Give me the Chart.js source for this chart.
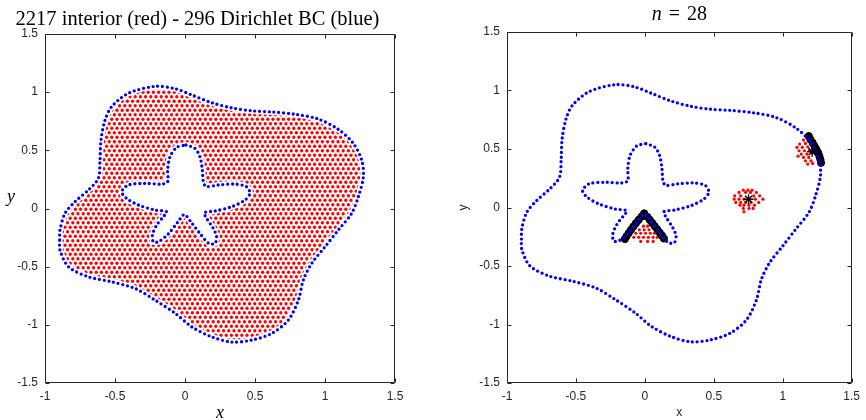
<!DOCTYPE html>
<html>
<head>
<meta charset="utf-8">
<script src="https://cdn.jsdelivr.net/npm/chart.js@4"></script>
<style>
  body { margin: 0; background: #fff; }
  #wrap { position: relative; width: 866px; height: 420px; }
  canvas { position: absolute; top: 0; }
  #left { left: 0; }
  #right { left: 433px; }
</style>
</head>
<body>
<div id="wrap">
  <canvas id="left" width="433" height="420"></canvas>
  <canvas id="right" width="433" height="420"></canvas>
</div>
<script>
// counts shown in the titles
const interiorCount = 2217;
const boundaryCount = 296;
const stencilSize = 28;

// tick labels
const xTicks = [-1, -0.5, 0, 0.5, 1, 1.5];
const yTicks = [-1.5, -1, -0.5, 0, 0.5, 1, 1.5];

// outer boundary (closed)
const outerPts = [
  [-0.895, -0.27], [-0.893, -0.185], [-0.857, -0.042], [-0.786, 0.058], [-0.69, 0.159],
  [-0.619, 0.259], [-0.607, 0.417], [-0.6, 0.59], [-0.571, 0.76], [-0.524, 0.875],
  [-0.405, 0.99], [-0.214, 1.05], [-0.071, 1.03], [0.048, 0.976], [0.19, 0.91],
  [0.333, 0.865], [0.476, 0.84], [0.619, 0.83], [0.786, 0.81], [0.95, 0.77],
  [1.095, 0.68], [1.202, 0.56], [1.262, 0.417], [1.274, 0.273], [1.238, 0.101],
  [1.19, -0.042], [1.095, -0.185], [1.0, -0.329], [0.905, -0.472], [0.845, -0.615],
  [0.81, -0.787], [0.738, -0.959], [0.619, -1.074], [0.476, -1.131], [0.333, -1.148],
  [0.19, -1.103], [0.048, -1.017], [-0.071, -0.9], [-0.214, -0.787], [-0.357, -0.687],
  [-0.524, -0.63], [-0.69, -0.587], [-0.833, -0.5], [-0.893, -0.357], [-0.895, -0.27]
];

// inner star-shaped boundary (closed)
const innerPts = [
  [0.007, 0.546], [0.071, 0.517], [0.107, 0.445], [0.124, 0.331], [0.131, 0.23],
  [0.15, 0.19], [0.238, 0.202], [0.357, 0.21], [0.44, 0.187], [0.464, 0.13],
  [0.429, 0.073], [0.333, 0.015], [0.214, -0.022], [0.138, -0.036], [0.155, -0.085],
  [0.202, -0.171], [0.226, -0.243], [0.214, -0.3], [0.17, -0.3], [0.11, -0.22],
  [0.045, -0.12], [-0.005, -0.052], [-0.05, -0.115], [-0.12, -0.22], [-0.19, -0.286],
  [-0.226, -0.286], [-0.233, -0.228], [-0.202, -0.142], [-0.155, -0.071], [-0.131, -0.028],
  [-0.214, -0.013], [-0.333, 0.03], [-0.417, 0.087], [-0.452, 0.144], [-0.405, 0.202],
  [-0.286, 0.216], [-0.167, 0.21], [-0.124, 0.23], [-0.124, 0.331], [-0.107, 0.445],
  [-0.059, 0.526], [0.007, 0.546]
];

// stencil centres (asterisks)
const stencilCenters = [[0.752, 0.07], [1.213, 0.476]];

// stencil nodes on the boundary (black)
const stencilBoundary = [
  [-0.005, -0.05], [-0.025, -0.078], [-0.045, -0.106], [-0.065, -0.134], [-0.083, -0.162],
  [-0.1, -0.19], [-0.117, -0.218], [-0.133, -0.246], [-0.145, -0.27],
  [0.018, -0.08], [0.036, -0.106], [0.054, -0.133], [0.072, -0.16], [0.09, -0.187],
  [0.108, -0.214], [0.124, -0.24], [0.138, -0.265],
  [1.189, 0.61], [1.201, 0.581], [1.217, 0.553], [1.231, 0.524], [1.245, 0.496],
  [1.257, 0.467], [1.266, 0.439], [1.273, 0.41], [1.278, 0.382]
];

// stencil nodes in the interior (red)
const stencilInterior = [
  // below the star notch
  [-0.01, -0.16], [0.02, -0.16], [-0.04, -0.19], [-0.005, -0.19], [0.03, -0.19],
  [-0.065, -0.22], [-0.03, -0.22], [0.005, -0.22], [0.04, -0.22], [0.07, -0.22],
  [-0.08, -0.255], [-0.045, -0.255], [-0.01, -0.255], [0.025, -0.255], [0.06, -0.255], [0.09, -0.255],
  [-0.03, -0.29], [0.02, -0.29], [0.06, -0.29],
  // middle of the domain
  [0.714, 0.148], [0.748, 0.148], [0.778, 0.148],
  [0.683, 0.129], [0.731, 0.129], [0.766, 0.129], [0.809, 0.129],
  [0.652, 0.1], [0.695, 0.1], [0.79, 0.1], [0.833, 0.1],
  [0.648, 0.071], [0.683, 0.071], [0.719, 0.071], [0.802, 0.071], [0.856, 0.071],
  [0.66, 0.043], [0.695, 0.043], [0.731, 0.043], [0.771, 0.043], [0.826, 0.043],
  [0.69, 0.02], [0.719, 0.02], [0.755, 0.02], [0.795, 0.02],
  [0.714, -0.008], [0.755, -0.008], [0.785, -0.008], [0.719, -0.037],
  // near the outer boundary
  [1.151, 0.576], [1.123, 0.542], [1.165, 0.548], [1.103, 0.514], [1.142, 0.514],
  [1.182, 0.519], [1.118, 0.485], [1.158, 0.485], [1.194, 0.491], [1.134, 0.457],
  [1.175, 0.457], [1.111, 0.439], [1.151, 0.428], [1.189, 0.428], [1.165, 0.399],
  [1.205, 0.399], [1.182, 0.371], [1.217, 0.377]
];

const toXY = pts => pts.map(([x, y]) => ({x, y}));

const tickFont = {family: '"Liberation Sans", Arial, sans-serif', size: 12};
const boundaryStyle = {
  showLine: true, fill: false, tension: 0.3, pointRadius: 0,
  borderColor: '#0000ff', borderWidth: 3.3, borderDash: [0, 4.8], borderCapStyle: 'round'
};

function axes(yWidth, xTitle, yTitle) {
  return {
    x: {
      type: 'linear', min: -1, max: 1.5,
      afterBuildTicks: s => { s.ticks = xTicks.map(v => ({value: v})); },
      afterFit: s => { s.height = 37; },
      grid: {display: false, drawTicks: false}, border: {display: false},
      ticks: {padding: 6, color: '#262626', font: tickFont, maxRotation: 0, autoSkip: false, callback: v => String(v)},
      title: xTitle
    },
    y: {
      type: 'linear', min: -1.5, max: 1.5,
      afterBuildTicks: s => { s.ticks = yTicks.map(v => ({value: v})); },
      afterFit: s => { s.width = yWidth; },
      grid: {display: false, drawTicks: false}, border: {display: false},
      ticks: {padding: 7, color: '#262626', font: tickFont, autoSkip: false, callback: v => String(v)},
      title: yTitle
    }
  };
}

// box with inward ticks on all four sides
const frame = {
  id: 'frame',
  afterDatasetsDraw(chart) {
    const {ctx, chartArea: a, scales: {x, y}} = chart;
    const L = Math.round(a.left) + 0.5, R = Math.round(a.right) - 0.5;
    const T = Math.round(a.top) + 0.5, B = Math.round(a.bottom) - 0.5;
    ctx.save();
    ctx.strokeStyle = '#262626';
    ctx.lineWidth = 1;
    ctx.beginPath();
    ctx.rect(L, T, R - L, B - T);
    x.ticks.forEach(t => {
      const p = Math.round(x.getPixelForValue(t.value)) + 0.5;
      ctx.moveTo(p, B); ctx.lineTo(p, B - 4);
      ctx.moveTo(p, T); ctx.lineTo(p, T + 4);
    });
    y.ticks.forEach(t => {
      const p = Math.round(y.getPixelForValue(t.value)) + 0.5;
      ctx.moveTo(L, p); ctx.lineTo(L + 4, p);
      ctx.moveTo(R, p); ctx.lineTo(R - 4, p);
    });
    ctx.stroke();
    ctx.restore();
  }
};

function dotPattern(ctx) {
  const tile = document.createElement('canvas');
  tile.width = 26; tile.height = 9;
  const t = tile.getContext('2d');
  t.fillStyle = '#ff0000';
  const d = 5.2;
  for (let k = 0; k <= 5; k++) {
    [[2.6 + k * d, 2.25], [k * d, 6.75]].forEach(([cx, cy]) => {
      t.beginPath(); t.arc(cx, cy, 1.65, 0, Math.PI * 2); t.fill();
    });
  }
  return ctx.createPattern(tile, 'repeat');
}

// red interior nodes filling the region between the two boundaries
const interiorFill = {
  id: 'interiorFill',
  beforeDatasetsDraw(chart) {
    const ctx = chart.ctx;
    const outer = chart.getDatasetMeta(0).dataset;
    const inner = chart.getDatasetMeta(1).dataset;
    outer.updateControlPoints(chart.chartArea, 'x');
    inner.updateControlPoints(chart.chartArea, 'x');
    ctx.save();
    ctx.beginPath();
    outer.path(ctx); ctx.closePath();
    inner.path(ctx); ctx.closePath();
    ctx.fillStyle = dotPattern(ctx);
    ctx.fill('evenodd');
    ctx.strokeStyle = '#fff';
    ctx.lineWidth = 6;
    ctx.stroke();
    ctx.restore();
  }
};

const leftYLabel = {
  id: 'leftYLabel',
  afterDraw(chart) {
    const ctx = chart.ctx;
    ctx.save();
    ctx.font = 'italic 18px "Liberation Serif"';
    ctx.fillStyle = '#000';
    ctx.textAlign = 'center';
    ctx.textBaseline = 'middle';
    ctx.fillText('y', 11, 197.5);
    ctx.restore();
  }
};

const rightTitle = {
  id: 'rightTitle',
  afterDraw(chart) {
    const {ctx, chartArea: a} = chart;
    const italic = 'italic 20px "Liberation Serif"', roman = '20px "Liberation Serif"';
    const gap = 7;
    ctx.save();
    ctx.fillStyle = '#000';
    ctx.textAlign = 'left';
    ctx.textBaseline = 'middle';
    ctx.font = italic; const wn = ctx.measureText('n').width;
    ctx.font = roman;
    const we = ctx.measureText('=').width, wv = ctx.measureText(String(stencilSize)).width;
    let x = (a.left + a.right) / 2 - (wn + we + wv + 2 * gap) / 2;
    const cy = 15;
    ctx.font = italic; ctx.fillText('n', x, cy); x += wn + gap;
    ctx.font = roman; ctx.fillText('=', x, cy); x += we + gap;
    ctx.fillText(String(stencilSize), x, cy);
    ctx.restore();
  }
};

new Chart(document.getElementById('left'), {
  type: 'line',
  data: {
    datasets: [
      {data: toXY(outerPts), ...boundaryStyle},
      {data: toXY(innerPts), ...boundaryStyle}
    ]
  },
  options: {
    responsive: false, animation: false, events: [],
    layout: {padding: {top: 0, right: 38, bottom: 0, left: 0}},
    plugins: {
      legend: {display: false}, tooltip: {enabled: false},
      title: {
        display: true,
        text: `${interiorCount} interior (red) - ${boundaryCount} Dirichlet BC (blue)`,
        color: '#000',
        font: {family: '"Liberation Serif", serif', size: 20.5, weight: 'normal', lineHeight: 1.2},
        padding: {top: 7, bottom: 2.4}
      }
    },
    scales: axes(45,
      {display: true, text: 'x', color: '#000', padding: {top: 0, bottom: -2},
       font: {family: '"Liberation Serif", serif', size: 18, style: 'italic', lineHeight: 1}},
      {display: false})
  },
  plugins: [interiorFill, frame, leftYLabel]
});

new Chart(document.getElementById('right'), {
  type: 'line',
  data: {
    datasets: [
      {data: toXY(stencilCenters), showLine: false, pointStyle: 'star', pointRadius: 5,
       borderColor: '#000', borderWidth: 1.4},
      {data: toXY(outerPts), ...boundaryStyle},
      {data: toXY(innerPts), ...boundaryStyle},
      {data: toXY(stencilBoundary), showLine: false, pointStyle: 'circle', pointRadius: 3.6,
       backgroundColor: '#000', borderColor: '#000', borderWidth: 1},
      {data: toXY(stencilInterior), showLine: false, pointStyle: 'circle', pointRadius: 1.6,
       backgroundColor: '#ff0000', borderColor: '#ff0000', borderWidth: 0}
    ]
  },
  options: {
    responsive: false, animation: false, events: [],
    layout: {padding: {top: 32, right: 8, bottom: 0, left: 0}},
    plugins: {legend: {display: false}, tooltip: {enabled: false}, title: {display: false}},
    scales: axes(74,
      {display: true, text: 'x', color: '#262626', padding: {top: 0, bottom: 1},
       font: {family: '"Liberation Sans", Arial, sans-serif', size: 12, lineHeight: 1}},
      {display: true, text: 'y', color: '#262626', padding: {top: 25, bottom: 0},
       font: {family: '"Liberation Sans", Arial, sans-serif', size: 12, lineHeight: 1}})
  },
  plugins: [frame, rightTitle]
});
</script>
</body>
</html>
